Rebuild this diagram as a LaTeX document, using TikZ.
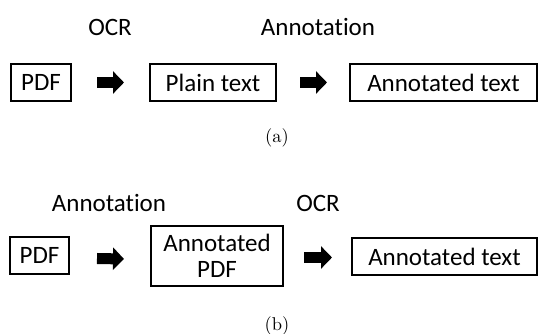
\documentclass[tikz,border=0pt]{standalone}
\usepackage{fontspec}
\newfontfamily\calibfont[Ligatures={NoCommon}]{Carlito}
\usetikzlibrary{arrows.meta}

\newcommand{\subcaptext}[1]{\scalebox{1.85}{#1}}

\tikzset{
  box/.style={draw=black, line width=1.6pt, inner sep=0pt, minimum height=37.4pt, align=center,
    font=\calibfont\fontsize{25}{26}\selectfont},
  stage/.style={inner sep=0pt, font=\calibfont\fontsize{25}{26}\selectfont},
  subcap/.style={inner sep=0pt, font=\normalfont\fontsize{10}{12}\selectfont},
  fatarrow/.style={line width=11pt, -{Triangle[length=11pt,width=22pt]}}
}

\begin{document}
\begin{tikzpicture} [x = 1pt, y = 1pt]
\useasboundingbox (0,0) rectangle (539,334);
% (a) OCR first, then annotation
\node[stage] (ocra) at (110,307){OCR};
\node[stage] (annota) at (318,307){Annotation};
\node[box, minimum width=60.4pt] (pdfa) at (41,251.5){PDF};
\node[box, minimum width=126.4pt] (plaina) at (213,251.5){Plain text};
\node[box, minimum width=187.4pt] (annotxta) at (443.5,251.5){Annotated text};
\draw[fatarrow] ([xshift=25pt]pdfa.east) -- ([xshift=-25pt]plaina.west);
\draw[fatarrow] ([xshift=23pt]plaina.east) -- ([xshift=-22pt]annotxta.west);
\node[subcap] (capa) at (277,196.5){\subcaptext{(a)}};
% (b) annotation first, then OCR
\node[stage] (annotb) at (109,131){Annotation};
\node[stage] (ocrb) at (318,131){OCR};
\node[box, minimum width=59.4pt] (pdfb) at (39.5,78.5){PDF};
\node[box, minimum width=132.4pt, minimum height=60.4pt] (annpdfb) at (217,78){Annotated\\PDF};
\node[box, minimum width=185.4pt] (annotxtb) at (444.5,77.5){Annotated text};
\draw[fatarrow] ([xshift=27pt,yshift=-3pt]pdfb.east) -- ([xshift=-26pt,yshift=-3pt]annpdfb.west);
\draw[fatarrow] ([xshift=20pt,yshift=-1.5pt]annpdfb.east) -- ([xshift=-19pt,yshift=-1pt]annotxtb.west);
\node[subcap] (capb) at (277,8){\subcaptext{(b)}};
\end{tikzpicture}
\end{document}
